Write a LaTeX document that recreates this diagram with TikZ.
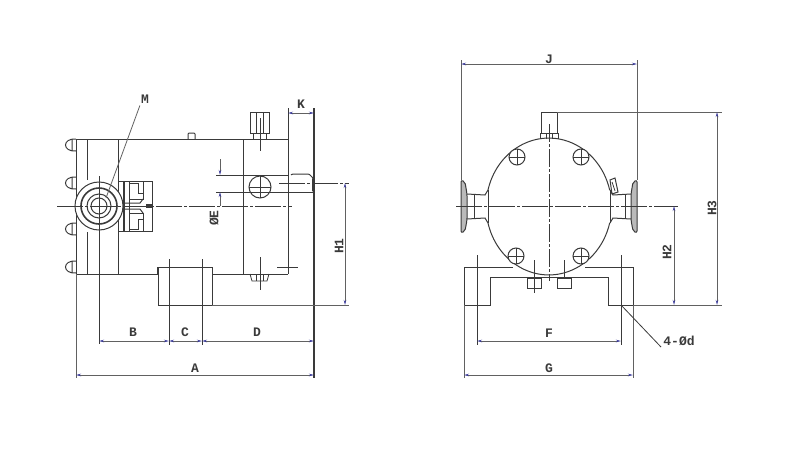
\documentclass[tikz,border=0pt]{standalone}
\usepackage{fontspec}
\setmainfont{Liberation Mono}
\usetikzlibrary{arrows.meta}
\definecolor{inkline}{HTML}{3A3A3A}
\definecolor{tipblue}{HTML}{3A3A9A}
\tikzset{
    part/.style={draw=inkline,line width=1pt},
    heavy/.style={draw=inkline,line width=1.6pt},
    thin part/.style={draw=inkline,line width=0.8pt},
    axis/.style={draw=inkline,line width=1pt,dash pattern=on 26pt off 2pt on 3pt off 2pt},
    extline/.style={draw=inkline!80,line width=0.8pt},
    dimline/.style={draw=inkline!80,line width=0.8pt,{Stealth[length=5pt,width=2.5pt,color=tipblue]}-{Stealth[length=5pt,width=2.5pt,color=tipblue]}},
    dimlabel/.style={font=\bfseries\fontsize{13}{13}\selectfont,text=inkline,inner sep=0pt},
}
\begin{document}
\begin{tikzpicture}[x=1pt,y=-1pt]
    \useasboundingbox (0,0) rectangle (800,458);
    % side view
    \draw[part] (76,139) -- (288,139);
    \draw[part] (76,139) -- (76,274) -- (118,274);
    \draw[part] (87,139) -- (87,180) (87,232) -- (87,274);
    \draw[part] (118,139) -- (118,274) -- (157,274) -- (157,267) -- (212,267) -- (212,274) -- (288,274);
    \draw[part] (158,267) -- (158,305) -- (212,305) -- (212,267);
    \draw[part] (243,139) -- (243,274);
    \draw[part] (288,108) -- (288,274);
    \draw[part,line width=1.2pt] (314,108) -- (314,378);
    \foreach \boltY in {145,183,229,267}
        \draw[part] (76,\boltY-6) .. controls (62,\boltY-7) and (62,\boltY+7) .. (76,\boltY+6) (72,\boltY-6) -- (72,\boltY+6);
    % top fittings
    \draw[part,rounded corners=1pt] (188,139) -- (188,133) -- (195,133) -- (195,139);
    \draw[part] (250,112) rectangle (269,133);
    \draw[thin part] (256,112) -- (256,133) (263,112) -- (263,133);
    \draw[thin part] (253,133) -- (253,139) (266,133) -- (266,139);
    \draw[thin part] (260,118) -- (260,151);
    % shaft
    \draw[part] (216,175) -- (288,175) (216,192) -- (313,192);
    \draw[part,rounded corners=1pt] (291,175) -- (292,174) -- (309,174) -- (313,178) -- (313,192);
    \draw[heavy] (313,179) -- (313,191);
    \draw[part] (260,187) circle (11);
    \draw[thin part] (249,187) -- (271,187) (260,176) -- (260,198);
    \draw[axis] (279,183) -- (349,183);
    % coupling
    \draw[part] (118,181) -- (152,181) -- (152,231) -- (118,231);
    \draw[heavy] (124,181) -- (124,231);
    \draw[part] (129,181) -- (129,231);
    \draw[part] (129,183) -- (138,183) -- (138,193) -- (143,193) -- (143,199) -- (129,199);
    \draw[part] (129,229) -- (138,229) -- (138,219) -- (143,219) -- (143,213) -- (129,213);
    \draw[part] (120,203) -- (140,203) -- (143,199) (120,209) -- (140,209) -- (143,213);
    \draw[part] (143,181) -- (143,193) (143,219) -- (143,231);
    \fill[inkline] (146,204) rectangle (152,208);
    % flange on side view
    \filldraw[part,fill=white] (99,206) circle (24);
    \draw[heavy] (99,206) circle (18);
    \draw[part] (99,206) circle (12);
    \draw[part] (99,206) circle (8);
    \draw[thin part] (99,176) -- (99,344);
    \draw[axis] (57,206) -- (292,206);
    % base details
    \draw[thin part] (169,259) -- (169,345);
    \draw[part] (202,259) -- (202,345);
    \draw[thin part] (250,274) -- (252,281) -- (267,281) -- (269,274);
    \draw[thin part] (256,274) -- (256,281) (263,274) -- (263,281);
    \draw[thin part] (260,257) -- (260,290);
    \draw[thin part] (277,267) -- (298,267);
    \draw[extline] (212,305) -- (349,305);
    \draw[extline] (76,274) -- (76,378);
    % dimensions on side view
    \draw[dimline] (288,113) -- (314,113);
    \draw[dimline] (99,341) -- (169,341);
    \draw[dimline] (169,341) -- (202,341);
    \draw[dimline] (202,341) -- (314,341);
    \draw[dimline] (76,375) -- (314,375);
    \draw[dimline] (345,183) -- (345,305);
    \draw[extline,-{Stealth[length=5pt,width=2.5pt,color=tipblue]}] (220,159) -- (220,175);
    \draw[extline,-{Stealth[length=5pt,width=2.5pt,color=tipblue]}] (220,206) -- (220,192);
    \node[dimlabel] (lblK) at (301,104) {K};
    \node[dimlabel] (lblB) at (133,332) {B};
    \node[dimlabel] (lblC) at (185,332) {C};
    \node[dimlabel] (lblD) at (257,332) {D};
    \node[dimlabel] (lblA) at (195,368) {A};
    \node[dimlabel,rotate=90] (lblHone) at (339,246) {H1};
    \node[dimlabel,rotate=90] (lblE) at (214,218) {ØE};
    \node[dimlabel] (lblM) at (145,99) {M};
    \coordinate (mtip) at (106,198);
    \draw[extline] (lblM.south west) ++(-1,2) -- (mtip);
    % front view
    \draw[part] (488,190) arc[start angle=166,end angle=14,x radius=62.7pt,y radius=68.5pt];
    \draw[part] (488,223) arc[start angle=194,end angle=346,x radius=62.7pt,y radius=68.5pt];
    \draw[part] (513,267) -- (464,267) -- (464,305) -- (490,305) -- (490,277) -- (608,277) -- (608,305) -- (633,305) -- (633,267) -- (585,267);
    \foreach \boltX/\boltY in {517/157,581/157,516/256,581/256} {
        \filldraw[part,fill=white] (\boltX,\boltY) circle (8);
        \draw[thin part] (\boltX-8,\boltY) -- (\boltX+8,\boltY) (\boltX,\boltY-8) -- (\boltX,\boltY+8);
    }
    % left nozzle
    \filldraw[part,fill=inkline!35,rounded corners=2pt] (461,180) -- (465,182) -- (467,194) -- (467,220) -- (465,231) -- (461,233) -- cycle;
    \draw[part] (467,194) -- (485,195) -- (488,190) (467,219) -- (485,218) -- (488,223);
    \draw[part] (474,194) -- (474,219);
    \draw[part] (488,190) -- (488,223);
    % right nozzle
    \filldraw[part,fill=inkline!35,rounded corners=2pt] (637,180) -- (633,182) -- (631,194) -- (631,220) -- (633,231) -- (637,233) -- cycle;
    \draw[part] (631,194) -- (613,195) -- (610,190) (631,219) -- (613,218) -- (610,223);
    \draw[part] (625,194) -- (625,219);
    \draw[part] (610,190) -- (610,223);
    \draw[part] (610,180) -- (615,178) -- (618,192) -- (612,194) -- cycle;
    \draw[thin part] (612,182) -- (615,191);
    % top nozzle
    \draw[part] (541,133) -- (541,112) -- (557,112) -- (557,133);
    \draw[part] (540,139) -- (540,133) -- (558,133) -- (558,139);
    \draw[thin part] (546,133) -- (546,139) (552,133) -- (552,139);
    % feet bolts
    \draw[part] (527,278) rectangle (541,288);
    \draw[part] (557,278) rectangle (571,288);
    \draw[thin part] (534,260) -- (534,293);
    \draw[thin part] (564,260) -- (564,278);
    % axes on front view
    \draw[thin part,dash pattern=on 18pt off 2pt on 3pt off 2pt] (549,124) -- (549,281);
    \draw[axis] (456,206) -- (678,206);
    % dimensions on front view
    \draw[extline] (461,60) -- (461,180) (637,60) -- (637,180);
    \draw[extline] (557,112) -- (722,112);
    \draw[extline] (633,305) -- (722,305);
    \draw[thin part] (477,255) -- (477,345) (621,255) -- (621,345);
    \draw[extline] (464,305) -- (464,378) (633,305) -- (633,378);
    \draw[dimline] (461,64) -- (637,64);
    \draw[dimline] (477,341) -- (621,341);
    \draw[dimline] (464,375) -- (633,375);
    \draw[dimline] (674,206) -- (674,305);
    \draw[dimline] (717,112) -- (717,305);
    \node[dimlabel] (lblJ) at (549,59) {J};
    \node[dimlabel] (lblF) at (549,333) {F};
    \node[dimlabel] (lblG) at (549,368) {G};
    \node[dimlabel,rotate=90] (lblHtwo) at (667,252) {H2};
    \node[dimlabel,rotate=90] (lblHthree) at (712,208) {H3};
    \node[dimlabel] (lblHole) at (679,341) {4-Ød};
    \coordinate (holetip) at (621,305);
    \draw[thin part] (holetip) -- (661,347);
\end{tikzpicture}
\end{document}
